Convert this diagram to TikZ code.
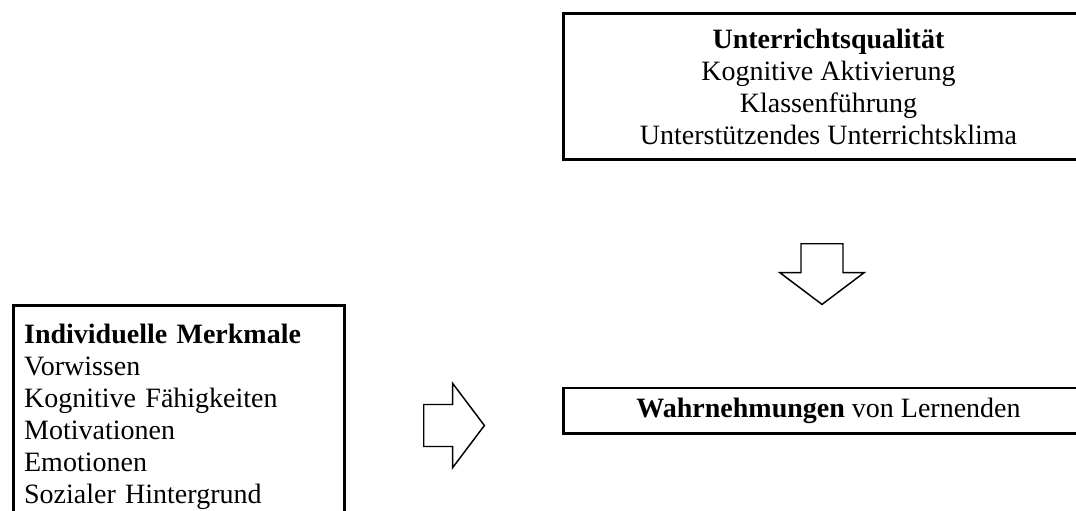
\documentclass[tikz,border=0pt]{standalone}
\usepackage{fontspec}
\setmainfont{Liberation Serif}
\usetikzlibrary{positioning,shapes.arrows}

\begin{document}
\begin{tikzpicture}[
  x=0.75pt,y=-0.75pt,
  every node/.style={font=\fontsize{21}{24}\selectfont},
  kasten/.style={draw,line width=2.2pt,align=center,inner sep=0pt,minimum width=398pt},
  pfeil/.style={single arrow,draw,line width=1.1pt,inner xsep=0pt,inner ysep=15.2pt,anchor=tail,
    minimum width=62pt,single arrow head extend=15.8pt,single arrow tip angle=106,minimum height=45.5pt}
]
\useasboundingbox (0,0) rectangle (1076,511);
% Kaesten
\node[kasten,minimum height=110pt] (quali) at (828.5,86.5)
  {\textbf{Unterrichtsqualität}\\Kognitive Aktivierung\\Klassenführung\\Unterstützendes Unterrichtsklima};
\node[kasten,minimum height=33.8pt] (wahrn) at (828.5,410.5)
  {\textbf{Wahrnehmungen} von Lernenden};
\node[draw,line width=2.2pt,anchor=north west,align=left,inner xsep=8pt,inner ysep=14pt,
  text width=232pt] (indiv) at (12,304)
  {\textbf{Individuelle Merkmale}\\Vorwissen\\Kognitive Fähigkeiten\\Motivationen\\Emotionen\\Sozialer Hintergrund};
% Pfeile
\node[pfeil,rotate=-90] (pfeilab) at (822,243) {};
\node[pfeil] (pfeilre) at (423,425.5) {};
\end{tikzpicture}
\end{document}
